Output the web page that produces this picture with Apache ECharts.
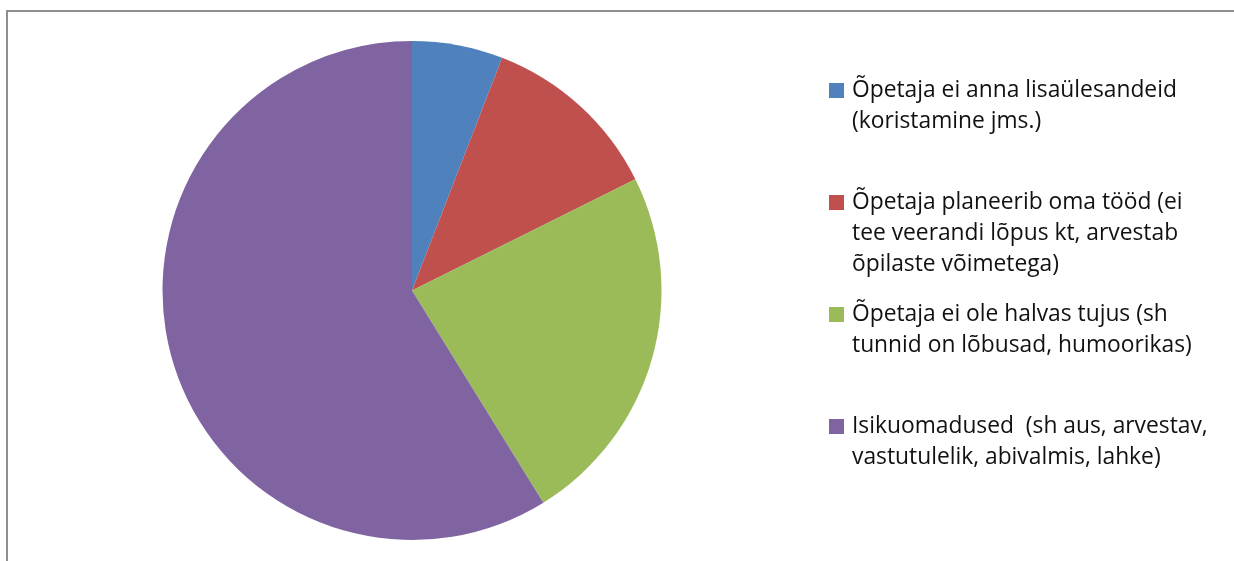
<!DOCTYPE html>
<html>
<head>
<meta charset="utf-8">
<script src="https://cdn.jsdelivr.net/npm/echarts@6/dist/echarts.min.js"></script>
<style>
html,body{margin:0;padding:0;background:#fff;}
#chart{width:1234px;height:561px;}
</style>
</head>
<body>
<div id="chart"></div>
<script>
const categories = [
  "Õpetaja ei anna lisaülesandeid (koristamine jms.)",
  "Õpetaja planeerib oma tööd (ei tee veerandi lõpus kt, arvestab õpilaste võimetega)",
  "Õpetaja ei ole halvas tujus (sh tunnid on lõbusad, humoorikas)",
  "Isikuomadused  (sh aus, arvestav, vastutulelik, abivalmis, lahke)"
];
const legendLines = [
  ["Õpetaja ei anna lisaülesandeid", "(koristamine jms.)"],
  ["Õpetaja planeerib oma tööd (ei", "tee veerandi lõpus kt, arvestab", "õpilaste võimetega)"],
  ["Õpetaja ei ole halvas tujus (sh", "tunnid on lõbusad, humoorikas)"],
  ["Isikuomadused  (sh aus, arvestav,", "vastutulelik, abivalmis, lahke)"]
];
const values = [3, 6, 12, 30];
const colors = ["#4F81BD", "#C0504D", "#9BBB59", "#8064A2"];

const chart = echarts.init(document.getElementById('chart'), null, {renderer: 'canvas'});

const FONT = 'Open Sans';
const FS = 22.8;
const rich = {
  g: {width: 8, height: 15},
  s: {width: 23, height: 15},
  t: {fontFamily: FONT, fontSize: FS, color: '#111', lineHeight: 31}
};
colors.forEach((c, i) => {
  rich['m' + i] = {width: 15, height: 15, backgroundColor: c};
});

function legendText(name) {
  const i = categories.indexOf(name);
  const lines = legendLines[i].slice();
  while (lines.length < 3) lines.push(' ');
  return lines.map((l, k) => (k === 0 ? '{m' + i + '|}{g|}' : '{s|}') + '{t|' + l + '}').join('\n');
}

chart.setOption({
  animation: false,
  backgroundColor: '#fff',
  graphic: [{
    type: 'rect',
    shape: {x: 7, y: 11, width: 1400, height: 800},
    style: {fill: 'none', stroke: '#8E8E8E', lineWidth: 2},
    silent: true
  }],
  legend: {
    orient: 'vertical',
    left: 824,
    top: 75,
    itemWidth: 0,
    itemHeight: 0,
    itemGap: 19,
    padding: 0,
    selectedMode: false,
    icon: 'rect',
    data: categories,
    formatter: legendText,
    textStyle: {rich: rich, lineHeight: 31, fontFamily: FONT, fontSize: FS, color: '#111'}
  },
  series: [{
    type: 'pie',
    center: [412, 290.5],
    radius: 249.5,
    startAngle: 90,
    clockwise: true,
    label: {show: false},
    labelLine: {show: false},
    emphasis: {disabled: true},
    itemStyle: {borderWidth: 0},
    data: categories.map((c, i) => ({name: c, value: values[i], itemStyle: {color: colors[i]}}))
  }]
});
</script>
</body>
</html>
